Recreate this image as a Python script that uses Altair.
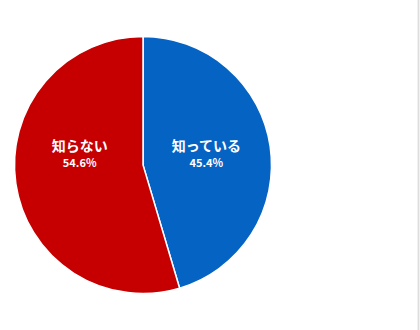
import altair as alt
import pandas as pd

categories = ["知っている", "知らない"]
values = [45.4, 54.6]
colors = ["#0563C4", "#C60000"]

df = pd.DataFrame({"category": categories, "value": values, "idx": list(range(len(categories)))})

CX, CY, R = 143, 165, 128.5
FONT = "Noto Sans CJK JP"

base = alt.Chart(df)

pie = base.mark_arc(outerRadius=R, stroke="white", strokeWidth=1.5).encode(
    theta=alt.Theta("value:Q", stack=True),
    order=alt.Order("idx:Q"),
    color=alt.Color("category:N", scale=alt.Scale(domain=categories, range=colors), legend=None),
    x=alt.value(CX),
    y=alt.value(CY),
)

lab = base.transform_window(
    cum="sum(value)", sort=[alt.SortField("idx")], frame=[None, 0]
).transform_calculate(
    mid="datum.cum - datum.value / 2",
    pct="format(datum.value, '.1f') + '%'",
)

offsets = {"知っている": (-8.4, 8.0), "知らない": (-26.8, -10.4)}
layers = [pie]
for cat in categories:
    d_name, d_pct = offsets[cat]
    f = lab.transform_filter(alt.datum.category == cat)
    enc = dict(
        theta=alt.Theta("mid:Q", scale=alt.Scale(domain=[0, 100]), stack=None),
        x=alt.value(CX),
        y=alt.value(CY),
    )
    layers.append(
        f.mark_text(radius=64, dy=d_name, font=FONT, fontSize=14, fontWeight="bold",
                    color="white", baseline="middle", align="center").encode(text="category:N", **enc)
    )
    layers.append(
        f.mark_text(radius=64, dy=d_pct, font=FONT, fontSize=11, fontWeight="bold",
                    color="white", baseline="middle", align="center").encode(text="pct:N", **enc)
    )

border = alt.Chart(df).mark_rule(color="#dddddd", strokeWidth=1.5).encode(
    x=alt.value(418.5), y=alt.value(0), y2=alt.value(330)
)
layers.append(border)

chart = alt.layer(*layers).properties(
    width=420, height=330,
    autosize=alt.AutoSizeParams(type="none"),
    padding=0,
    background="white",
).configure_view(stroke=None)

chart.save("out.html", embed_options={"renderer": "svg", "actions": False})
